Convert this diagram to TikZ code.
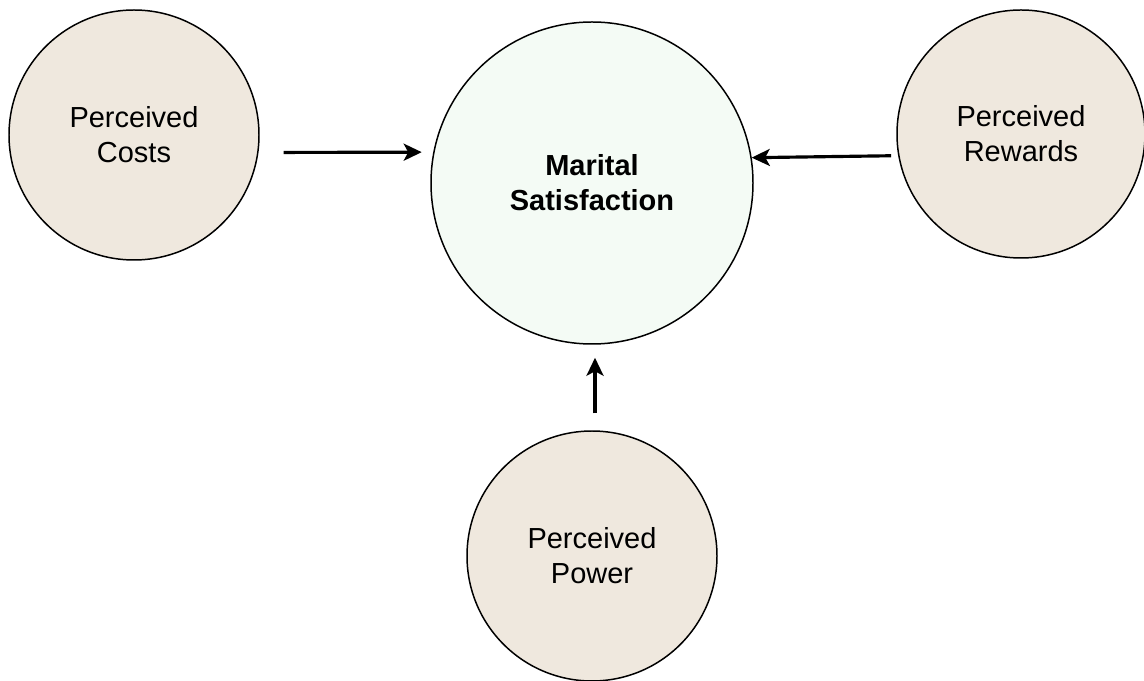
\documentclass[tikz,border=0pt]{standalone}
\usepackage{fontspec}
\setmainfont{Liberation Sans}
\usetikzlibrary{arrows.meta}
\definecolor{beige}{RGB}{239,232,222}
\definecolor{mint}{RGB}{244,251,245}
\begin{document}
\begin{tikzpicture}[
		bubble/.style={circle, draw=black, line width=0.85pt, align=center, inner sep=0pt, font=\fontsize{16.5}{20}\selectfont},
		factor/.style={bubble, fill=beige, minimum size=5cm},
		link/.style={line width=1.8pt, -{Stealth[length=0.36cm, width=0.34cm, inset=0.09cm]}}]
			%%%%% START %%%%%
			
			\useasboundingbox (0, 0) rectangle (22.88, 13.62);
			
			\node[bubble, fill=mint, minimum size=6.44cm, font=\fontsize{16.5}{20}\selectfont\bfseries] (marital) at (11.84, 9.96) {Marital\\Satisfaction};
			
			\node[factor] (costs) at (2.68, 10.92) {Perceived\\Costs};
			\node[factor, minimum size=4.96cm] (rewards) at (20.42, 10.94) {Perceived\\Rewards};
			\node[factor] (power) at (11.84, 2.50) {Perceived\\Power};
			
			\draw[link, shorten <=0.5cm, shorten >=0.23cm] (costs.-8.7) -- (marital.169.6);
			\draw[link, shorten <=0.14cm] (rewards.190.2) -- (marital.9.65);
			\draw[link, shorten <=0.34cm, shorten >=0.26cm] ([xshift=0.06cm]power.north) -- ([xshift=0.06cm]marital.south);
			
			%%%%% END %%%%%
		\end{tikzpicture}
\end{document}
